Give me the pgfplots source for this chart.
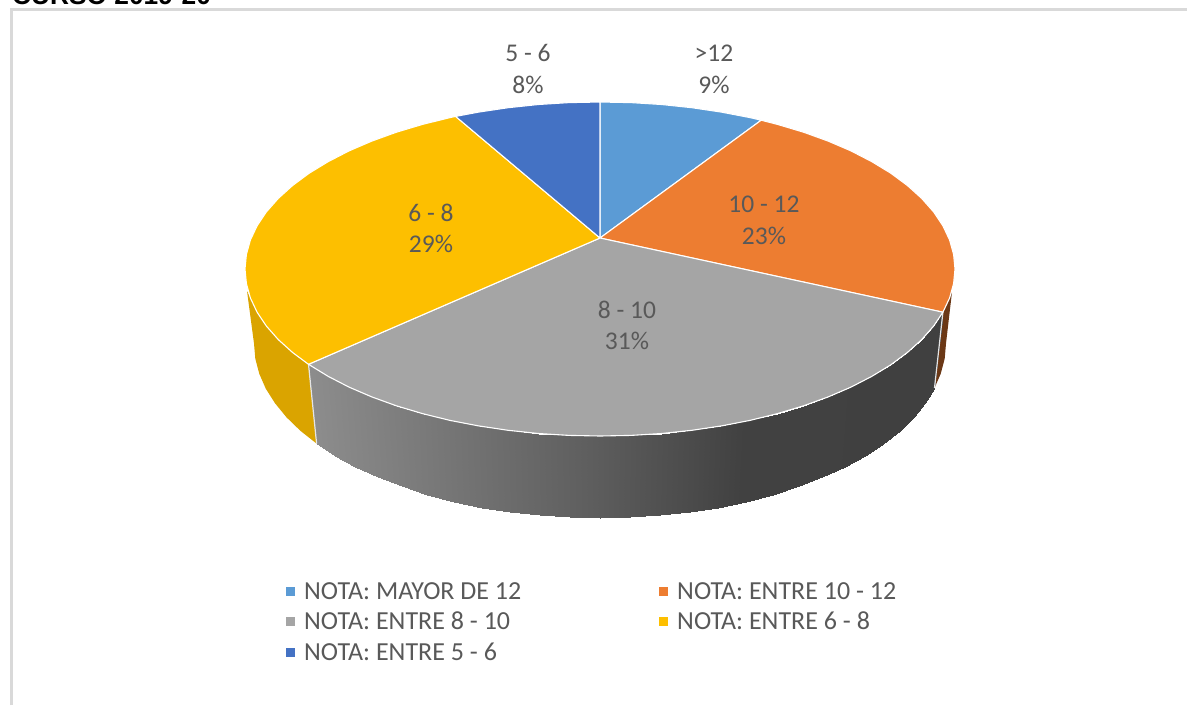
\documentclass[border=0pt]{standalone}
\usepackage{fontspec}
\setmainfont{Carlito}
\newfontfamily\titlefont{Liberation Sans}
\usepackage{pgfplots}
\pgfplotsset{compat=1.18}
\definecolor{cblue}{HTML}{5B9BD5}
\definecolor{corange}{HTML}{ED7D31}
\definecolor{cgrey}{HTML}{A5A5A5}
\definecolor{cyellow}{HTML}{FDBF00}
\definecolor{cnavy}{HTML}{4472C4}
\definecolor{ctext}{HTML}{595959}
\definecolor{cframe}{HTML}{D9D9D9}
\pgfplotstableread{
x y c
942.9 312.2 942.9
933.6 326.1 933.6
921.7 339.6 921.7
907.4 352.5 907.4
890.8 364.8 890.8
871.9 376.3 871.9
851.0 387.1 851.0
828.2 396.9 828.2
803.6 405.8 803.6
777.5 413.6 777.5
750.0 420.4 750.0
721.4 425.9 721.4
691.9 430.3 691.9
661.6 433.5 661.6
631.0 435.4 631.0
600.0 436.0 600.0
569.0 435.4 569.0
538.4 433.5 538.4
508.1 430.3 508.1
478.6 425.9 478.6
450.0 420.4 450.0
422.5 413.6 422.5
396.4 405.8 396.4
371.8 396.9 371.8
349.0 387.1 349.0
328.1 376.3 328.1
309.2 364.8 309.2
934.2 388.7 942.9
925.1 403.2 933.6
913.6 417.2 921.7
899.6 430.8 907.4
883.4 443.6 890.8
865.0 455.7 871.9
844.7 466.9 851.0
822.4 477.2 828.2
798.5 486.4 803.6
773.0 494.6 777.5
746.2 501.6 750.0
718.3 507.5 721.4
689.6 512.1 691.9
660.1 515.3 661.6
630.2 517.3 631.0
600.0 518.0 600.0
569.8 517.3 569.0
539.9 515.3 538.4
510.4 512.1 508.1
481.7 507.5 478.6
453.8 501.6 450.0
427.0 494.6 422.5
401.5 486.4 396.4
377.6 477.2 371.8
355.3 466.9 349.0
335.0 455.7 328.1
316.6 443.6 309.2
}\greyside
\begin{document}
\begin{tikzpicture}
\path[use as bounding box] (0,0) rectangle (1187pt,705pt);
\begin{axis}[
  at={(0,0)}, anchor=south west,
  scale only axis, width=1187pt, height=705pt,
  xmin=0, xmax=1187, ymin=0, ymax=705, y dir=reverse,
  axis lines=none, clip=true,
  colormap={side}{rgb255(0pt)=(142,142,142); rgb255(290pt)=(94,94,94); rgb255(445pt)=(65,65,65); rgb255(650pt)=(64,64,64)},
  point meta min=300, point meta max=950,
]
% frame
\addplot[draw=cframe, line width=3pt] coordinates {(11,705) (11,9.5) (1187,9.5)};
% sides
\addplot[fill=cyellow!86!black, draw=none] coordinates {
(308.5,364.3)(292.6,352.5)(278.3,339.6)(266.4,326.1)(257.1,312.2)(250.4,298.0)(247,291)
(254,343.5)(255.3,358.7)(259.3,373.8)(265.8,388.7)(275,403.2)(286.4,417.2)(300.4,430.8)(316.6,443.6)(308.5,364.3)};
\addplot[fill=corange!45!black, draw=none] coordinates {
(942.9,312.2)(949.6,298)(952,292)(946,343.5)(944.7,358.7)(940.7,373.8)(934.5,388)(942.9,312.2)};
\addplot[surf, shader=interp, mesh/rows=2, mesh/ordering=x varies, point meta=\thisrow{c}] table {\greyside};
\addplot[draw=white!90!black, line width=1.2pt] coordinates {(308.5,364.3)(316.6,443.6)};
\addplot[draw=white!90!black, line width=1.2pt] coordinates {(942.9,312.2)(934.5,388)};
% top faces
\addplot[fill=cblue, draw=white, line width=1.1pt, line join=round] coordinates {
(600,238)(600,102)(631.0,102.6)(661.6,104.5)(691.9,107.7)(721.4,112.1)(750.0,117.6)(761.2,120.2)(600,238)};
\addplot[fill=corange, draw=white, line width=1.1pt, line join=round] coordinates {
(600,238)(761.2,120.2)(777.5,124.4)(803.6,132.2)(828.2,141.1)(851.0,150.9)(871.9,161.7)(890.8,173.2)(907.4,185.5)(921.7,198.4)(933.6,211.9)(942.9,225.8)(949.6,240.0)(953.6,254.4)(955,269)(953.6,283.6)(949.6,298.0)(942.9,312.2)(600,238)};
\addplot[fill=cgrey, draw=white, line width=1.1pt, line join=round] coordinates {
(600,238)(942.9,312.2)(933.6,326.1)(921.7,339.6)(907.4,352.5)(890.8,364.8)(871.9,376.3)(851.0,387.1)(828.2,396.9)(803.6,405.8)(777.5,413.6)(750.0,420.4)(721.4,425.9)(691.9,430.3)(661.6,433.5)(631.0,435.4)(600,436)(569.0,435.4)(538.4,433.5)(508.1,430.3)(478.6,425.9)(450.0,420.4)(422.5,413.6)(396.4,405.8)(371.8,396.9)(349.0,387.1)(328.1,376.3)(308.5,364.3)(600,238)};
\addplot[fill=cyellow, draw=white, line width=1.1pt, line join=round] coordinates {
(600,238)(308.5,364.3)(292.6,352.5)(278.3,339.6)(266.4,326.1)(257.1,312.2)(250.4,298.0)(246.4,283.6)(245,269)(246.4,254.4)(250.4,240.0)(257.1,225.8)(266.4,211.9)(278.3,198.4)(292.6,185.5)(309.2,173.2)(328.1,161.7)(349.0,150.9)(371.8,141.1)(396.4,132.2)(422.5,124.4)(450.0,117.6)(455.6,116.4)(600,238)};
\addplot[fill=cnavy, draw=white, line width=1.1pt, line join=round] coordinates {
(600,238)(455.6,116.4)(478.6,112.1)(508.1,107.7)(538.4,104.5)(569.0,102.6)(600,102)(600,238)};
% legend markers
\addplot[only marks, mark=square*, mark size=4pt, mark options={draw=cblue, fill=cblue}] coordinates {(290,591)};
\addplot[only marks, mark=square*, mark size=4pt, mark options={draw=corange, fill=corange}] coordinates {(663,591)};
\addplot[only marks, mark=square*, mark size=4pt, mark options={draw=cgrey, fill=cgrey}] coordinates {(290,621)};
\addplot[only marks, mark=square*, mark size=4pt, mark options={draw=cyellow, fill=cyellow}] coordinates {(663,621)};
\addplot[only marks, mark=square*, mark size=4pt, mark options={draw=cnavy, fill=cnavy}] coordinates {(290,652)};
\tikzset{lab/.style={anchor=base, text=ctext, inner sep=0pt, font=\fontsize{25.5}{30}\selectfont},
         leg/.style={anchor=base west, text=ctext, inner sep=0pt, font=\fontsize{26}{30}\selectfont}}
\node[lab] at (axis cs:714,61) {>12};
\node[lab] at (axis cs:714,93) {9\%};
\node[lab] at (axis cs:528,61) {5 - 6};
\node[lab] at (axis cs:528,93) {8\%};
\node[lab] at (axis cs:431,221) {6 - 8};
\node[lab] at (axis cs:431,252) {29\%};
\node[lab] at (axis cs:764,212) {10 - 12};
\node[lab] at (axis cs:764,244) {23\%};
\node[lab] at (axis cs:627,318) {8 - 10};
\node[lab] at (axis cs:627,349) {31\%};
\node[leg] at (axis cs:304,599) {NOTA: MAYOR DE 12};
\node[leg] at (axis cs:677,599) {NOTA: ENTRE 10 - 12};
\node[leg] at (axis cs:304,629) {NOTA: ENTRE 8 - 10};
\node[leg] at (axis cs:677,629) {NOTA: ENTRE 6 - 8};
\node[leg] at (axis cs:304,660) {NOTA: ENTRE 5 - 6};
\node[anchor=base west, inner sep=0pt, font=\titlefont\bfseries\fontsize{26.3}{30}\selectfont] at (axis cs:12,4) {CURSO 2019-20};
\end{axis}
\end{tikzpicture}
\end{document}
